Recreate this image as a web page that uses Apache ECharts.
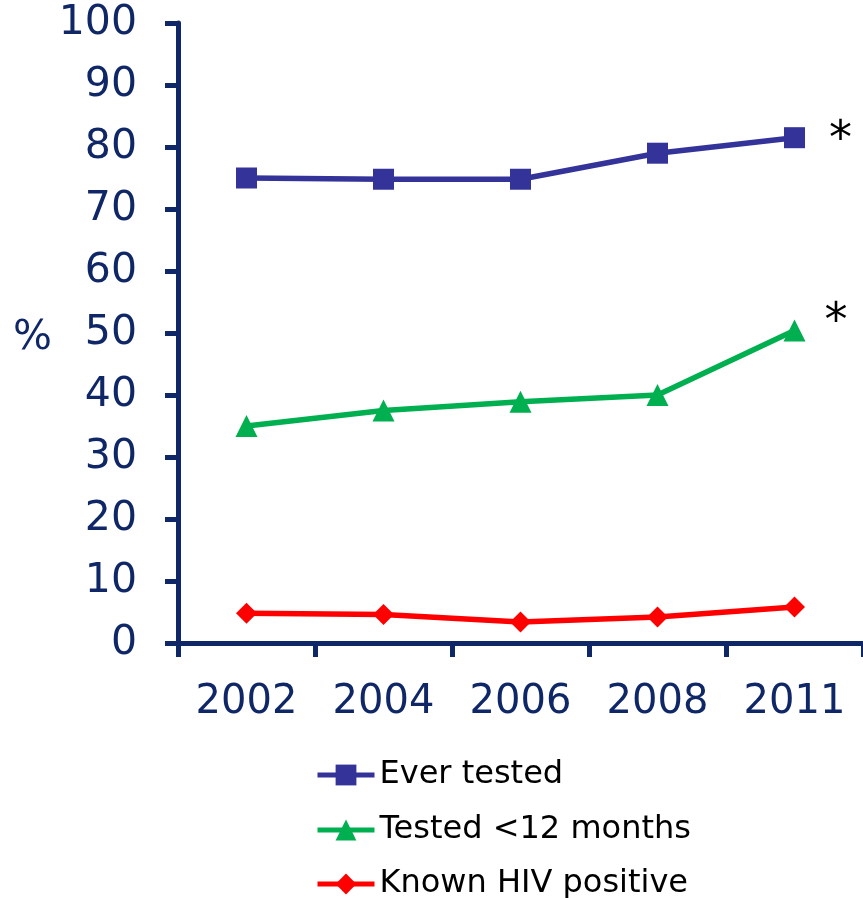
<!DOCTYPE html>
<html><head><meta charset="utf-8">
<script src="https://cdn.jsdelivr.net/npm/echarts@6/dist/echarts.min.js"></script>
<style>html,body{margin:0;padding:0;background:#fff}#c{width:863px;height:898px}</style>
</head><body><div id="c"></div>
<script>
const categories = ['2002', '2004', '2006', '2008', '2011'];
const everTested = [75, 74.8, 74.8, 79, 81.5];
const tested12 = [35, 37.5, 38.9, 40, 50.4];
const knownHIV = [4.8, 4.6, 3.4, 4.2, 5.8];
const yTicks = [0, 10, 20, 30, 40, 50, 60, 70, 80, 90, 100];
const seriesNames = ['Ever tested', 'Tested <12 months', 'Known HIV positive'];
const yTitle = '%';

const axisColor = '#0f2766';
const font = 'DejaVu Sans, Verdana, sans-serif';

function withStar(arr, offset) {
  return arr.map((v, i) => i === arr.length - 1 ? {
    value: v,
    label: { show: true, formatter: '*', position: 'right', offset: offset, color: '#000', fontSize: 46, fontFamily: font }
  } : v);
}

function legendFor(name, top) {
  return {
    orient: 'vertical', left: 315, top: top, padding: 0,
    itemWidth: 57, itemHeight: 26,
    lineStyle: { width: 5 },
    textStyle: { color: '#000', fontSize: 32, fontFamily: font, lineHeight: 26 },
    data: [name]
  };
}

const chart = echarts.init(document.getElementById('c'));
chart.setOption({
  animation: false,
  grid: { left: 178, top: 23, right: -3, bottom: 255 },
  graphic: [{
    type: 'text', left: 13, top: 318,
    style: { text: yTitle, fill: axisColor, fontSize: 41, fontFamily: font }
  }],
  xAxis: {
    type: 'category', data: categories, boundaryGap: true,
    axisLine: { lineStyle: { color: axisColor, width: 5 } },
    axisTick: { show: true, length: 14, lineStyle: { color: axisColor, width: 5 } },
    axisLabel: { color: axisColor, fontSize: 40, fontFamily: font, margin: 40, interval: 0 }
  },
  yAxis: {
    type: 'value', min: 0, max: 100, interval: 10,
    splitLine: { show: false },
    axisLine: { show: true, lineStyle: { color: axisColor, width: 5 } },
    axisTick: { show: true, length: 13, lineStyle: { color: axisColor, width: 5 } },
    axisLabel: { color: axisColor, fontSize: 41, fontFamily: font, margin: 41,
      formatter: v => yTicks.includes(v) ? String(v) : '' }
  },
  legend: [
    legendFor(seriesNames[0], 759),
    legendFor(seriesNames[1], 814),
    legendFor(seriesNames[2], 868)
  ],
  series: [
    { name: seriesNames[0], type: 'line', data: withStar(everTested, [19, 3]),
      symbol: 'rect', symbolSize: 21, lineStyle: { color: '#333399', width: 5.5 },
      itemStyle: { color: '#333399' } },
    { name: seriesNames[1], type: 'line', data: withStar(tested12, [14, -7]),
      symbol: 'triangle', symbolSize: 22, lineStyle: { color: '#00b050', width: 5.5 },
      itemStyle: { color: '#00b050' } },
    { name: seriesNames[2], type: 'line', data: knownHIV,
      symbol: 'diamond', symbolSize: 21, lineStyle: { color: '#ff0000', width: 5.5 },
      itemStyle: { color: '#ff0000' } }
  ]
});
</script></body></html>
